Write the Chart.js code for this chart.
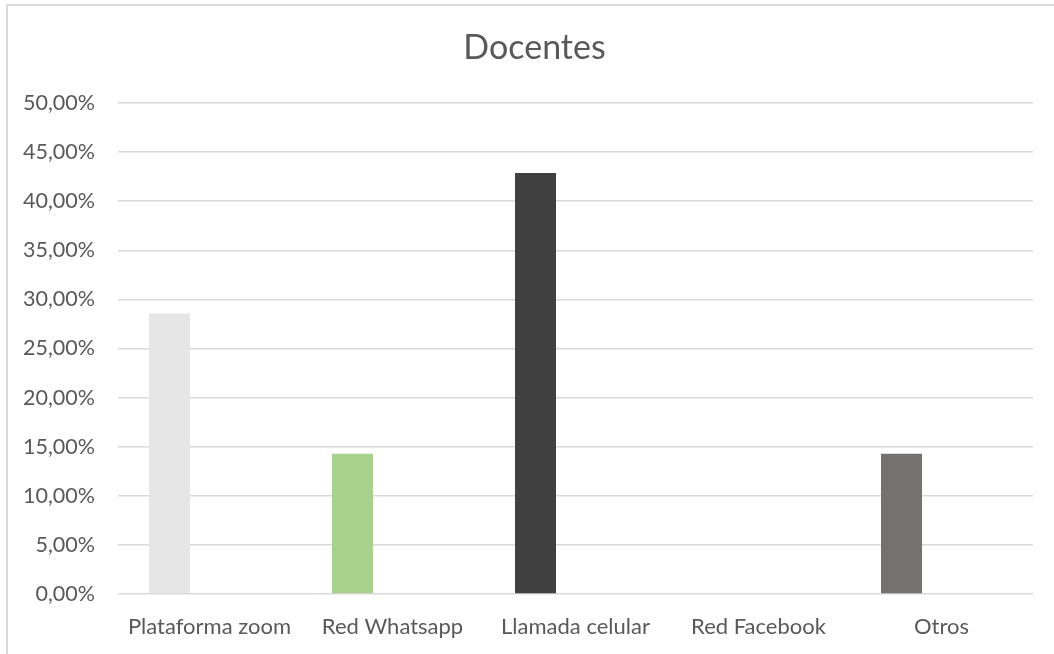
<!DOCTYPE html>
<html>
<head>
<meta charset="utf-8">
<script src="https://cdn.jsdelivr.net/npm/chart.js@4"></script>
<style>
  html, body { margin: 0; padding: 0; background: #ffffff; overflow: hidden; width: 1054px; height: 654px; }
  #frame { position: absolute; left: 6px; top: 4px; width: 1200px; height: 800px;
           border-left: 2px solid #D9D9D9; border-top: 2px solid #D9D9D9; box-sizing: border-box; }
  #wrap { position: absolute; left: 0; top: 0; width: 1069px; height: 654px; }
</style>
</head>
<body>
<div id="frame"></div>
<div id="wrap"><canvas id="c" width="1069" height="654"></canvas></div>
<script>
const chartTitle = 'Docentes';
const categories = ['Plataforma zoom', 'Red Whatsapp', 'Llamada celular', 'Red Facebook', 'Otros'];
const values = [28.57, 14.29, 42.86, 0, 14.29];
const emptySeries = [null, null, null, null, null];
const barColors = ['#E7E6E6', '#A9D18E', '#404040', '#3B3838', '#767171'];
const yMin = 0, yMax = 50, yStep = 5;

const FONT = 'Lato, "Open Sans", sans-serif';
const TEXT = '#595959';

new Chart(document.getElementById('c'), {
  type: 'bar',
  data: {
    labels: categories,
    datasets: [
      { label: 'Docentes', data: values, backgroundColor: barColors, borderWidth: 0,
        categoryPercentage: 0.874, barPercentage: 0.5125 },
      { label: '', data: emptySeries, backgroundColor: '#ffffff', borderWidth: 0,
        categoryPercentage: 0.874, barPercentage: 0.5125 }
    ]
  },
  options: {
    responsive: false,
    animation: false,
    layout: { padding: { left: 0, right: 0, top: 0, bottom: 0 } },
    plugins: {
      legend: { display: false },
      tooltip: { enabled: false },
      title: {
        display: true,
        text: chartTitle,
        color: TEXT,
        font: { family: FONT, size: 34, weight: 'normal', lineHeight: 1.2 },
        padding: { top: 28, bottom: 34.2 }
      }
    },
    scales: {
      x: {
        grid: { display: false },
        border: { display: false },
        ticks: { color: TEXT, font: { family: FONT, size: 22 }, padding: 12, maxRotation: 0 },
        afterFit: (s) => { s.height = 60; }
      },
      y: {
        min: yMin, max: yMax,
        grid: { color: '#D9D9D9', lineWidth: 1.5, drawTicks: false },
        border: { display: false },
        ticks: {
          stepSize: yStep,
          color: TEXT,
          font: { family: FONT, size: 21.5 },
          padding: 23,
          callback: (v) => v.toFixed(2).replace('.', ',') + '%'
        },
        afterFit: (s) => { s.width = 118; }
      },
      yRightSpace: {
        type: 'linear',
        position: 'right',
        grid: { display: false },
        border: { display: false },
        ticks: { display: false },
        afterFit: (s) => { s.width = 36; }
      }
    }
  }
});
</script>
</body>
</html>
